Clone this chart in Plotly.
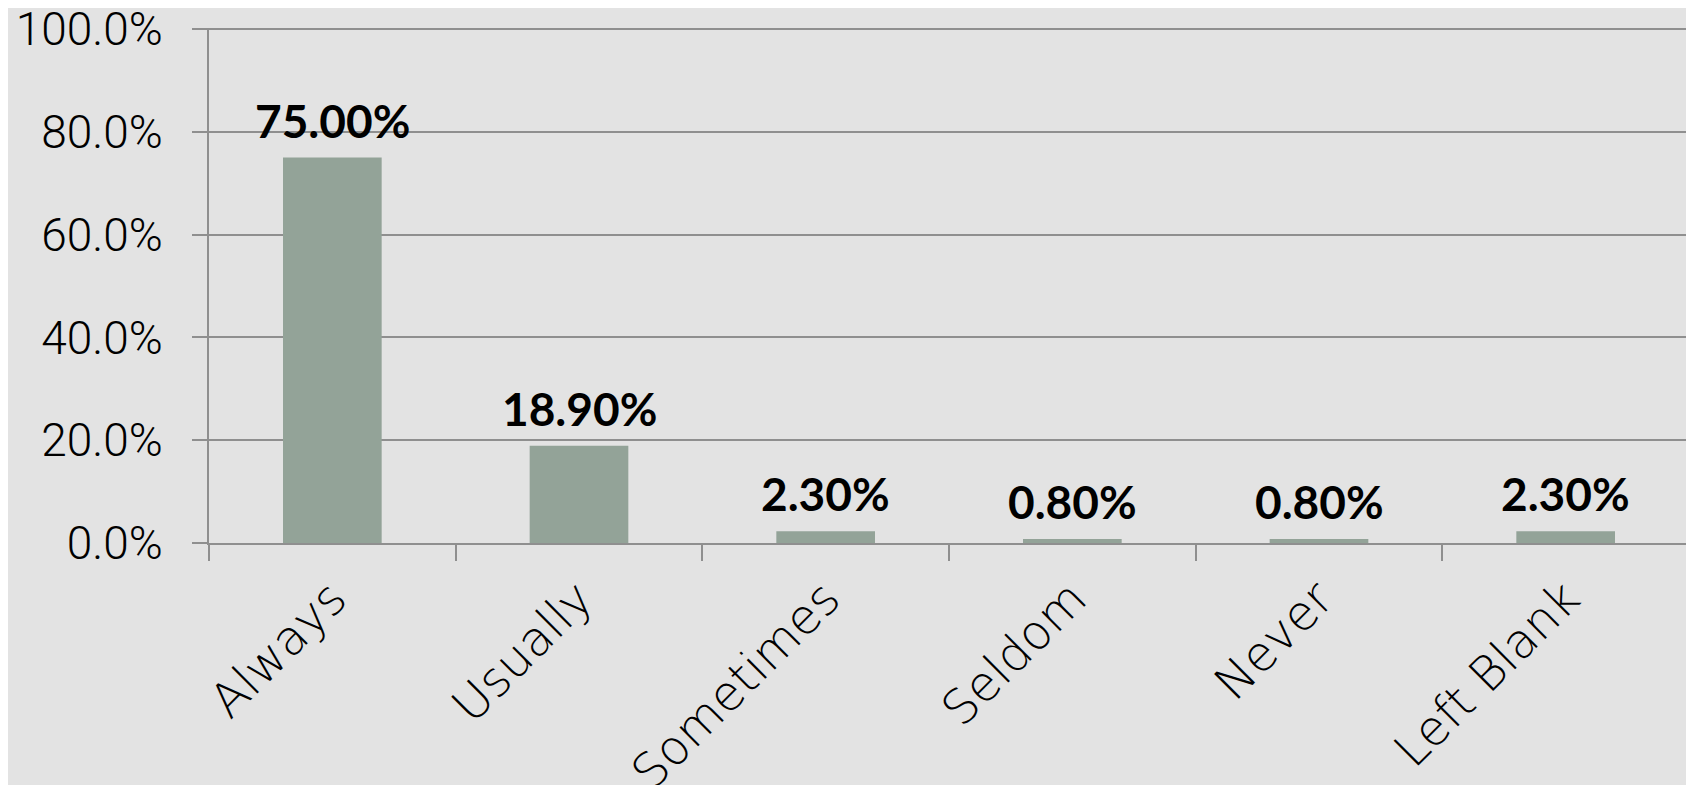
import plotly.graph_objects as go

categories = ["Always", "Usually", "Sometimes", "Seldom", "Never", "Left Blank"]
shares = [0.75, 0.189, 0.023, 0.008, 0.008, 0.023]
share_labels = ["75.00%", "18.90%", "2.30%", "0.80%", "0.80%", "2.30%"]

BG = "#e3e3e3"
BAR = "#93a398"
GRID = "#8f8f8f"

fig = go.Figure()

fig.add_trace(go.Bar(
    x=categories,
    y=shares,
    marker=dict(color=BAR, line=dict(width=0)),
    width=0.4,
    hoverinfo="skip",
))

# value labels above the bars
for cat, val, lab in zip(categories, shares, share_labels):
    fig.add_annotation(
        x=cat, y=val, text=lab,
        showarrow=False, yanchor="bottom", yshift=8,
        font=dict(family="Lato", size=46, color="black", weight="bold"),
    )

# page body has an 8px margin, so margins are shifted to compensate
fig.update_layout(
    width=1694,
    height=785,
    margin=dict(l=201, r=13, t=20, b=250),
    plot_bgcolor=BG,
    paper_bgcolor=BG,
    showlegend=False,
    xaxis=dict(
        type="category",
        automargin=False,
        showgrid=False,
        zeroline=False,
        showline=True,
        linecolor=GRID,
        linewidth=2,
        ticks="outside",
        tickson="boundaries",
        ticklen=16,
        tickwidth=2,
        tickcolor=GRID,
        tickangle=-45,
        ticklabelstandoff=6,
        tickfont=dict(family="DejaVu Sans", size=48, color="black", weight=200),
    ),
    yaxis=dict(
        range=[0, 1.002],
        tickvals=[0, 0.2, 0.4, 0.6, 0.8, 1.0],
        tickformat=".1%",
        automargin=False,
        ticklabeloverflow="allow",
        showgrid=True,
        gridcolor=GRID,
        gridwidth=1.5,
        zeroline=False,
        showline=True,
        linecolor=GRID,
        linewidth=2,
        ticks="outside",
        ticklen=15,
        tickwidth=1.5,
        tickcolor=GRID,
        ticklabelstandoff=20,
        tickfont=dict(family="Roboto", size=46, color="black", weight=300),
    ),
)

fig.write_html("out.html")
